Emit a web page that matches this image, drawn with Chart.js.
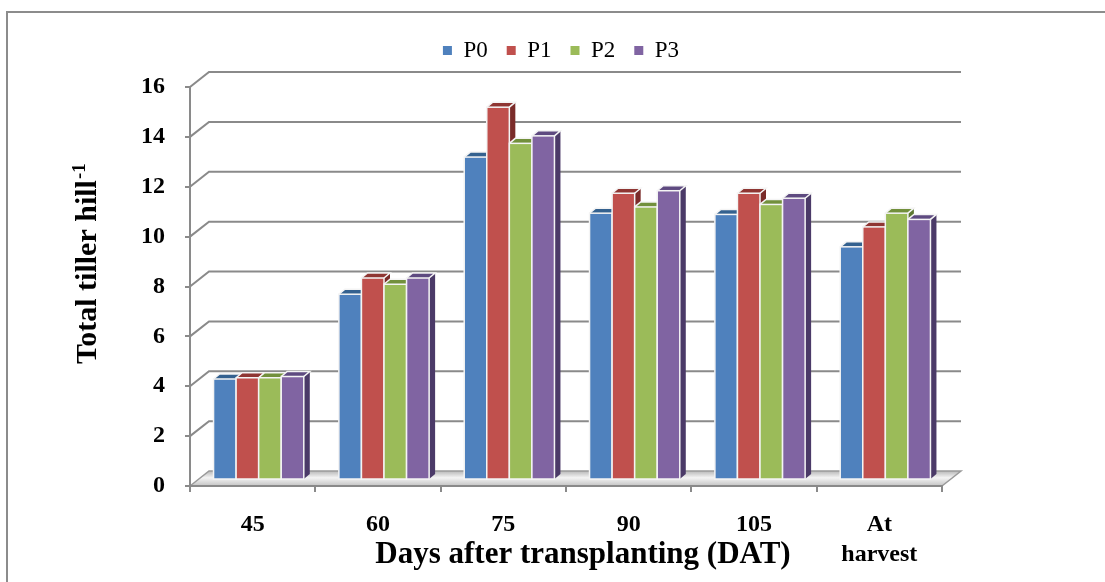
<!DOCTYPE html>
<html>
<head>
<meta charset="utf-8">
<script src="https://cdn.jsdelivr.net/npm/chart.js@4.4.1/dist/chart.umd.min.js"></script>
<style>
  html, body { margin: 0; padding: 0; background: #fff; }
</style>
</head>
<body>
<canvas id="tillerChart" width="1105" height="582"></canvas>
<script>
// Values
const categories = ['45', '60', '75', '90', '105', ['At', 'harvest']];
const seriesNames = ['P0', 'P1', 'P2', 'P3'];
const p0 = [4.05, 7.45, 12.95, 10.7, 10.65, 9.35];
const p1 = [4.1, 8.1, 14.95, 11.5, 11.5, 10.15];
const p2 = [4.1, 7.85, 13.5, 10.95, 11.05, 10.7];
const p3 = [4.15, 8.1, 13.8, 11.6, 11.3, 10.45];

const frontColors = ['#4f81bd', '#c0504d', '#9bbb59', '#8064a2'];
const topColors = ['#34618f', '#8f3633', '#72903c', '#5e4a80'];
const sideColors = ['#2b4e76', '#7a2b29', '#5d7831', '#4b3a68'];

const SERIF = "'Liberation Serif', 'Times New Roman', serif";
const WALL = { x: 19, y: -15 };   // depth of the back wall
const SHIFT = { x: 6, y: -6 };    // bars sit half-way into the floor
const FACE = { x: 6, y: -5 };     // bar depth

function poly(ctx, pts) {
    ctx.beginPath();
    ctx.moveTo(pts[0][0], pts[0][1]);
    for (let i = 1; i < pts.length; i++) ctx.lineTo(pts[i][0], pts[i][1]);
    ctx.closePath();
    ctx.fill();
}

// Extra room under the legend, and centre it over the plot
const legendGap = {
    id: 'legendGap',
    beforeInit(chart) {
        const fit = chart.legend.fit;
        chart.legend.fit = function () {
            fit.call(this);
            this.height += 15;
        };
    },
    afterLayout(chart) {
        chart.legend.left = 180;
    }
};

// Back wall, floor and frame
const wall3d = {
    id: 'wall3d',
    beforeDraw(chart) {
        const ctx = chart.ctx;
        const { left, right, bottom } = chart.chartArea;
        const y = chart.scales.y;
        ctx.save();
        ctx.fillStyle = '#fff';
        ctx.fillRect(0, 0, chart.width, chart.height);

        // outer frame
        ctx.strokeStyle = '#8c8c8c';
        ctx.lineWidth = 2;
        ctx.beginPath();
        ctx.moveTo(7, chart.height + 2);
        ctx.lineTo(7, 12);
        ctx.lineTo(chart.width + 2, 12);
        ctx.stroke();

        // gridlines on the back wall
        ctx.strokeStyle = '#8a8a8a';
        ctx.lineWidth = 2;
        for (let v = 2; v <= 16; v += 2) {
            const py = y.getPixelForValue(v);
            ctx.beginPath();
            ctx.moveTo(left, py);
            ctx.lineTo(left + WALL.x, py + WALL.y);
            ctx.lineTo(right + WALL.x, py + WALL.y);
            ctx.stroke();
        }

        // floor
        const g = ctx.createLinearGradient(0, bottom + WALL.y, 0, bottom);
        g.addColorStop(0, '#b8b8b8');
        g.addColorStop(0.45, '#f4f4f4');
        g.addColorStop(1, '#c4c4c4');
        ctx.fillStyle = g;
        poly(ctx, [[left, bottom], [right, bottom], [right + WALL.x, bottom + WALL.y], [left + WALL.x, bottom + WALL.y]]);
        ctx.strokeStyle = '#9a9a9a';
        ctx.lineWidth = 1.5;
        ctx.beginPath();
        ctx.moveTo(left, bottom);
        ctx.lineTo(left + WALL.x, bottom + WALL.y);
        ctx.lineTo(right + WALL.x, bottom + WALL.y);
        ctx.lineTo(right, bottom);
        ctx.stroke();
        ctx.restore();
    },
    // bars as boxes: side, top, then front face
    beforeDatasetsDraw(chart) {
        const ctx = chart.ctx;
        ctx.save();
        for (let i = 0; i < chart.data.labels.length; i++) {
            chart.data.datasets.forEach((ds, d) => {
                const bar = chart.getDatasetMeta(d).data[i];
                const l = bar.x - bar.width / 2 + SHIFT.x;
                const r = bar.x + bar.width / 2 + SHIFT.x;
                const t = bar.y + SHIFT.y;
                const b = bar.base + SHIFT.y;
                ctx.fillStyle = sideColors[d];
                poly(ctx, [[r, t], [r + FACE.x, t + FACE.y], [r + FACE.x, b + FACE.y], [r, b]]);
                ctx.fillStyle = topColors[d];
                poly(ctx, [[l, t], [l + FACE.x, t + FACE.y], [r + FACE.x, t + FACE.y], [r, t]]);
                ctx.fillStyle = frontColors[d];
                ctx.fillRect(l, t, r - l, b - t);
                ctx.strokeStyle = '#f4f4f4';
                ctx.lineWidth = 1.5;
                ctx.strokeRect(l, t, r - l, b - t);
                ctx.beginPath();
                ctx.moveTo(l, t);
                ctx.lineTo(l + FACE.x, t + FACE.y);
                ctx.lineTo(r + FACE.x, t + FACE.y);
                ctx.lineTo(r, t);
                ctx.stroke();
            });
        }
        ctx.restore();
        return false;
    },
    // axis titles
    afterDraw(chart) {
        const ctx = chart.ctx;
        ctx.save();
        ctx.fillStyle = '#000';
        ctx.textBaseline = 'alphabetic';

        ctx.font = 'bold 31px ' + SERIF;
        ctx.textAlign = 'center';
        ctx.fillText('Days after transplanting (DAT)', 583, 563);

        ctx.translate(96, 364);
        ctx.rotate(-Math.PI / 2);
        ctx.textAlign = 'left';
        ctx.font = 'bold 30px ' + SERIF;
        const main = 'Total tiller hill';
        ctx.fillText(main, 0, 0);
        const w = ctx.measureText(main).width;
        ctx.font = 'bold 19px ' + SERIF;
        ctx.fillText('-1', w + 1, -11);
        ctx.restore();
    }
};

new Chart(document.getElementById('tillerChart'), {
    type: 'bar',
    data: {
        labels: categories,
        datasets: [p0, p1, p2, p3].map((vals, d) => ({
            label: seriesNames[d],
            data: vals,
            backgroundColor: frontColors[d],
            borderWidth: 0,
            categoryPercentage: 0.72,
            barPercentage: 1.0
        }))
    },
    options: {
        responsive: false,
        animation: false,
        devicePixelRatio: 1,
        layout: { padding: { left: 0, right: 163, top: 20, bottom: 10 } },
        plugins: {
            tooltip: { enabled: false },
            legend: {
                position: 'top',
                labels: {
                    boxWidth: 9,
                    boxHeight: 9,
                    padding: 19,
                    color: '#000',
                    font: { family: SERIF, size: 23 }
                }
            }
        },
        scales: {
            x: {
                afterFit(scale) { scale.height = 86; },
                grid: { drawOnChartArea: false, drawTicks: true, tickLength: 6, color: '#8a8a8a', lineWidth: 2 },
                border: { display: true, color: '#8a8a8a', width: 2 },
                ticks: {
                    color: '#000',
                    padding: 18,
                    maxRotation: 0,
                    autoSkip: false,
                    font: { family: SERIF, size: 24, weight: 'bold', lineHeight: 1.25 }
                }
            },
            y: {
                min: 0,
                max: 16,
                afterFit(scale) { scale.width = 190; },
                grid: { drawOnChartArea: false, drawTicks: true, tickLength: 5, color: '#8a8a8a', lineWidth: 2 },
                border: { display: true, color: '#8a8a8a', width: 2 },
                ticks: {
                    stepSize: 2,
                    color: '#000',
                    padding: 20,
                    font: { family: SERIF, size: 24, weight: 'bold' }
                }
            }
        }
    },
    plugins: [legendGap, wall3d]
});
</script>
</body>
</html>
